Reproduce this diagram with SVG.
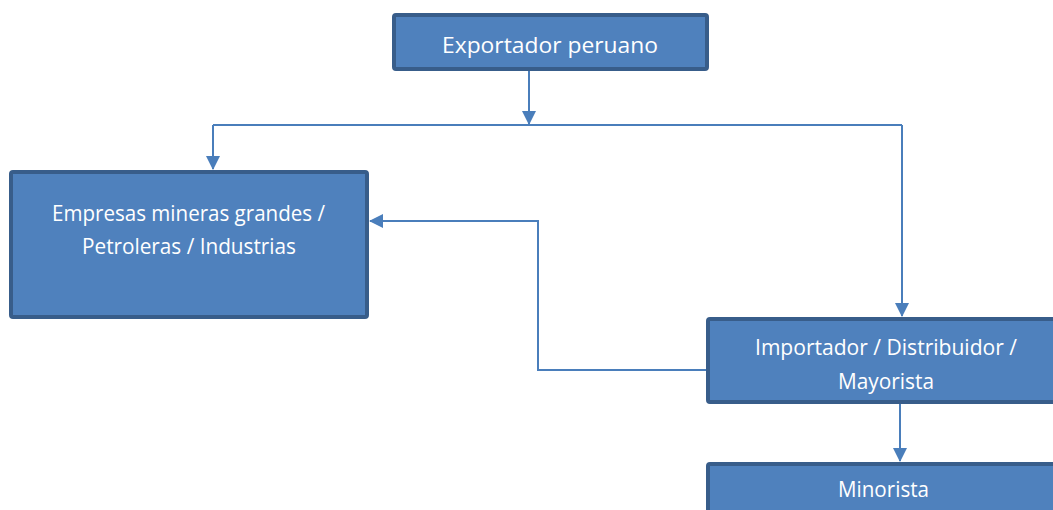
<svg xmlns="http://www.w3.org/2000/svg" width="1053" height="510" viewBox="0 0 1053 510">
<style>
.box{fill:#4F81BD;stroke:#385D8A;stroke-width:4;}
.lbl{font-family:"Open Sans","Liberation Sans",sans-serif;font-size:21.5px;fill:#FFFFFF;text-anchor:middle;}
.conn{fill:none;stroke:#4A7EBB;stroke-width:2;}
</style>
<defs>
<marker id="arr" markerUnits="userSpaceOnUse" markerWidth="14" markerHeight="14" viewBox="0 0 14 14" refX="13" refY="7" orient="auto">
<path d="M0,0 L14,7 L0,14 Z" fill="#4A7EBB"/>
</marker>
</defs>
<rect width="1053" height="510" fill="#FFFFFF"/>
<g id="connectors">
<path class="conn" d="M529,71 V124" marker-end="url(#arr)"/>
<path class="conn" d="M213,125 H902"/>
<path class="conn" d="M213,125 V169" marker-end="url(#arr)"/>
<path class="conn" d="M902,125 V316" marker-end="url(#arr)"/>
<path class="conn" d="M706,370 H538 V221 H370" marker-end="url(#arr)"/>
<path class="conn" d="M900,404 V461" marker-end="url(#arr)"/>
</g>
<g id="exportador">
<rect class="box" x="394" y="15" width="313" height="54" rx="2"/>
<text class="lbl" x="550" y="53" textLength="216" lengthAdjust="spacingAndGlyphs">Exportador peruano</text>
</g>
<g id="empresas">
<rect class="box" x="11" y="172" width="356" height="145" rx="2"/>
<text class="lbl" x="188.5" y="221" textLength="273" lengthAdjust="spacingAndGlyphs">Empresas mineras grandes /</text>
<text class="lbl" x="189" y="254" textLength="214" lengthAdjust="spacingAndGlyphs">Petroleras / Industrias</text>
</g>
<g id="importador">
<rect class="box" x="708" y="319" width="360" height="83" rx="2"/>
<text class="lbl" x="886" y="355" textLength="262" lengthAdjust="spacingAndGlyphs">Importador / Distribuidor /</text>
<text class="lbl" x="886" y="389" textLength="96" lengthAdjust="spacingAndGlyphs">Mayorista</text>
</g>
<g id="minorista">
<rect class="box" x="708" y="464" width="360" height="100" rx="2"/>
<text class="lbl" x="883.5" y="497" textLength="91" lengthAdjust="spacingAndGlyphs">Minorista</text>
</g>
</svg>
